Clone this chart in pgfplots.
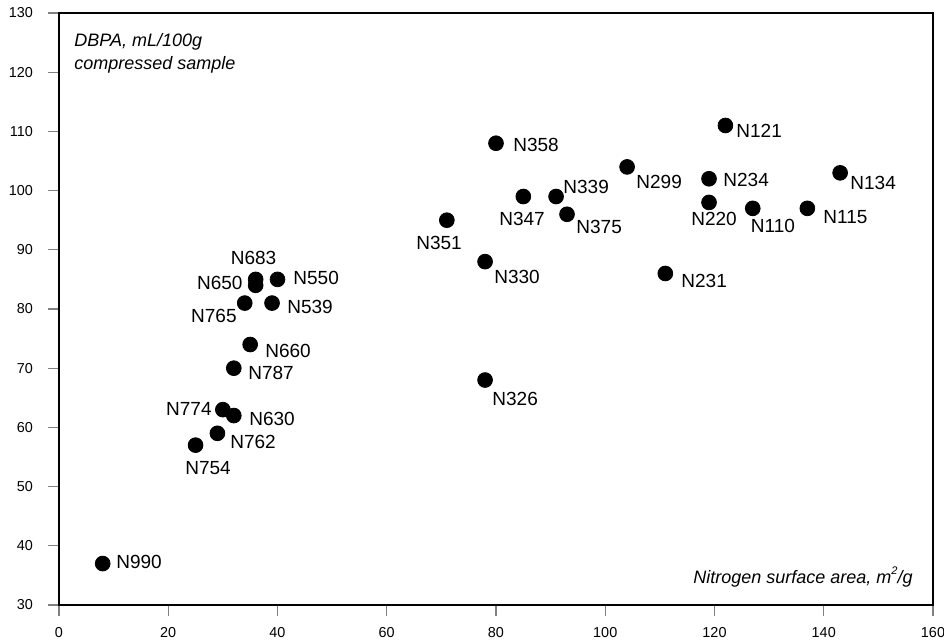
\documentclass[border=0pt]{standalone}
\usepackage{fontspec}
\setmainfont{Liberation Sans}
\usepackage{pgfplots}
\pgfplotsset{compat=1.18}
\begin{document}
\begin{tikzpicture}
\begin{axis}[
  scale only axis,
  width=437pt, height=296pt,
  xmin=0, xmax=160, ymin=30, ymax=130,
  xtick={0,20,...,160}, ytick={30,40,...,130},
  xtick pos=bottom, ytick pos=left,
  tick align=outside,
  major tick length=5.5pt,
  tick style={gray, line width=0.6pt},
  axis line style={line width=1.3pt},
  /pgf/number format/assume math mode=true,
  tick label style={font=\fontsize{7.2}{8}\selectfont},
  yticklabel style={xshift=-4pt},
  xticklabel style={yshift=-2pt},
  clip=false,
]
\addplot[only marks, mark=*, mark size=3.7pt, black] coordinates {
  (8,37) (25,57) (29,59) (30,63) (32,62) (32,70) (35,74) (34,81) (39,81)
  (36,84) (36,85) (40,85) (71,95) (78,88) (78,68) (80,108) (85,99) (91,99)
  (93,96) (104,104) (111,86) (122,111) (119,102) (119,98) (127,97) (137,97) (143,103)
};
\begin{scope}[every node/.style={inner sep=0pt, font=\fontsize{9.5}{11}\selectfont}]
\node[anchor=west] at (axis cs:10.43,37.25) {N990};
\node[anchor=center] at (axis cs:27.28,53.10) {N754};
\node[anchor=west] at (axis cs:31.30,57.49) {N762};
\node[anchor=east] at (axis cs:28.01,63.05) {N774};
\node[anchor=west] at (axis cs:34.78,61.37) {N630};
\node[anchor=west] at (axis cs:34.60,69.12) {N787};
\node[anchor=west] at (axis cs:37.71,72.83) {N660};
\node[anchor=east] at (axis cs:32.59,78.74) {N765};
\node[anchor=west] at (axis cs:41.74,80.42) {N539};
\node[anchor=east] at (axis cs:33.68,84.47) {N650};
\node[anchor=center] at (axis cs:35.61,88.68) {N683};
\node[anchor=west] at (axis cs:42.84,85.31) {N550};
\node[anchor=center] at (axis cs:69.57,91.21) {N351};
\node[anchor=west] at (axis cs:79.63,85.48) {N330};
\node[anchor=west] at (axis cs:79.27,64.74) {N326};
\node[anchor=west] at (axis cs:83.11,107.74) {N358};
\node[anchor=center] at (axis cs:84.76,95.26) {N347};
\node[anchor=west] at (axis cs:92.27,100.66) {N339};
\node[anchor=west] at (axis cs:94.65,93.91) {N375};
\node[anchor=west] at (axis cs:105.63,101.50) {N299};
\node[anchor=west] at (axis cs:113.87,84.81) {N231};
\node[anchor=west] at (axis cs:123.94,110.10) {N121};
\node[anchor=west] at (axis cs:121.56,101.84) {N234};
\node[anchor=center] at (axis cs:119.91,95.26) {N220};
\node[anchor=center] at (axis cs:130.71,94.08) {N110};
\node[anchor=west] at (axis cs:139.86,95.60) {N115};
\node[anchor=west] at (axis cs:144.81,101.33) {N134};
\end{scope}
\node[anchor=north west, inner sep=0pt, align=left, font=\fontsize{9}{11.5}\selectfont\itshape]
  at (axis cs:2.75,126.6) {DBPA, mL/100g\\compressed sample};
\node[anchor=east, inner sep=0pt, font=\fontsize{9}{11}\selectfont\itshape]
  at (axis cs:156.34,34.72) {Nitrogen surface area, m\raisebox{0.9ex}{\fontsize{5.5}{6}\selectfont 2}/g};
\end{axis}
\pgfresetboundingbox
\path[use as bounding box] ([shift={(-29.5pt,-18.5pt)}]current axis.south west) rectangle ([shift={(5.5pt,6.5pt)}]current axis.north east);
\end{tikzpicture}
\end{document}
